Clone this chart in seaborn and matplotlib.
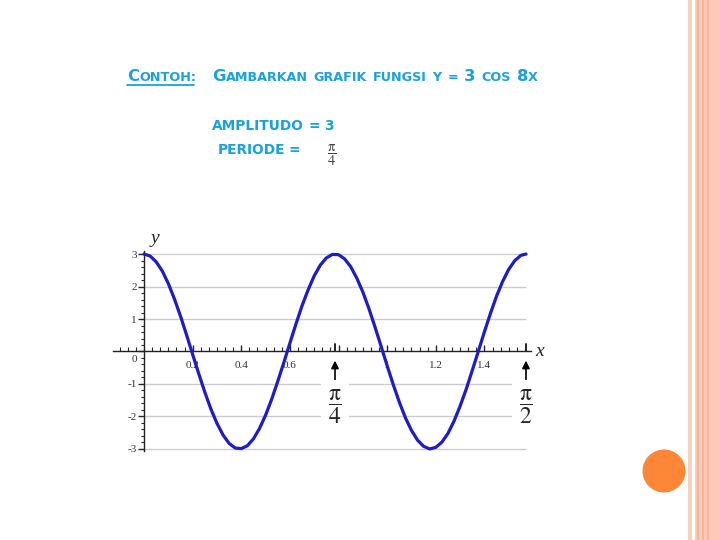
import numpy as np
import pandas as pd
import seaborn as sns
import matplotlib.pyplot as plt
from matplotlib.patches import Rectangle, Ellipse
from matplotlib.ticker import FixedLocator

# curve samples (y = 3 cos 8x)
x_vals = list(np.round(np.arange(0, 1.56, 0.025), 3)) + [1.571]
y_vals = [3.00, 2.94, 2.76, 2.48, 2.09, 1.62, 1.09, 0.51, -0.09, -0.68,
          -1.25, -1.77, -2.21, -2.57, -2.83, -2.97, -2.99, -2.90, -2.69, -2.37,
          -1.96, -1.47, -0.92, -0.34, 0.26, 0.85, 1.41, 1.90, 2.33, 2.66,
          2.88, 2.99, 2.98, 2.85, 2.61, 2.26, 1.83, 1.32, 0.75, 0.16,
          -0.44, -1.02, -1.56, -2.04, -2.43, -2.73, -2.92, -3.00, -2.95, -2.79,
          -2.52, -2.14, -1.68, -1.16, -0.58, 0.01, 0.61, 1.18, 1.71, 2.16,
          2.53, 2.80, 2.96, 3.00]

y_ticks = [-3, -2, -1, 0, 1, 2, 3]
y_ticklabels = ['-3', '-2', '-1', '', '1', '2', '3']
x_ticks = [0.2, 0.4, 0.6, 0.8, 1.0, 1.2, 1.4]
x_ticklabels = ['0.2', '0.4', '0.6', '', '1', '1.2', '1.4']
grid_levels = [-3, -2, -1, 1, 2, 3]
marks = [np.pi / 4, np.pi / 2]
mark_labels = [r'$\dfrac{\mathrm{\pi}}{4}$', r'$\dfrac{\mathrm{\pi}}{2}$']

TITLE_BLUE = '#19a2df'
W, H = 720, 540

sns.set_theme(style="white")
plt.rcParams['font.family'] = ['DejaVu Sans']
plt.rcParams['mathtext.fontset'] = 'stix'

fig = plt.figure(figsize=(7.2, 5.4), dpi=100)
fig.patch.set_facecolor('white')

# slide decoration on the right
fig.add_artist(Rectangle((688 / W, 0), 4 / W, 1, transform=fig.transFigure,
                         color='#f9cfbf', lw=0))
fig.add_artist(Rectangle((695 / W, 0), 25 / W, 1, transform=fig.transFigure,
                         color='#fccab6', lw=0))
for sx, sw in [(697, 1.5), (702, 1.5), (707, 2)]:
    fig.add_artist(Rectangle((sx / W, 0), sw / W, 1, transform=fig.transFigure,
                             color='#f5b89e', lw=0))
fig.add_artist(Ellipse((664 / W, 1 - 471 / H), 43 / W, 43 / H,
                       transform=fig.transFigure, color='#fd8637', lw=0))

# heading in small caps style, spread to the width seen on the slide
renderer = fig.canvas.get_renderer()


def draw_words(x_px, x_end, y_px, words, big, small):
    texts = []
    total = 0
    for word in words:
        row = []
        for txt, is_big in word:
            t = fig.text(0, 0, txt, fontsize=big if is_big else small,
                         color=TITLE_BLUE, fontweight='bold', va='baseline', ha='left')
            w = t.get_window_extent(renderer).width
            row.append((t, w))
            total += w
        texts.append(row)
    gap = max((x_end - x_px - total) / max(len(words) - 1, 1), 2)
    for row in texts:
        for t, w in row:
            t.set_position((x_px / W, 1 - y_px / H))
            x_px += w
        x_px += gap
    return x_px - gap


draw_words(127, 196, 81, [[('C', 1), ('ONTOH:', 0)]], 11.8, 9.2)
fig.add_artist(plt.Line2D([127 / W, 194 / W], [1 - 85 / H, 1 - 85 / H],
                          transform=fig.transFigure, color=TITLE_BLUE, lw=1.3))
draw_words(212, 538, 81, [[('G', 1), ('AMBARKAN', 0)], [('GRAFIK', 0)], [('FUNGSI', 0)],
                          [('Y', 0)], [('=', 0)], [('3', 1)], [('COS', 0)],
                          [('8', 1), ('X', 0)]], 11.8, 9.2)
draw_words(212, 334, 130, [[('AMPLITUDO', 0)], [('=', 0)], [('3', 0)]], 9.9, 9.9)
draw_words(218, 300, 154, [[('PERIODE', 0)], [('=', 0)]], 9.9, 9.9)
fig.text(332 / W, 1 - 155 / H, r'$\dfrac{\mathrm{\pi}}{4}$', fontsize=10.5, color='#444444',
         ha='center', va='center')

# graph
ax = fig.add_axes([113 / W, 1 - 460 / H, 432 / W, 230 / H])
ax.set_facecolor('none')
ax.set_xlim(-0.1275, 1.649)
ax.set_ylim(-3.34, 3.74)

ax.hlines(grid_levels, 0, np.pi / 2, color='#cccccc', lw=1, zorder=1)

data = pd.DataFrame({'x': x_vals, 'y': y_vals})
sns.lineplot(data=data, x='x', y='y', color='#1c1cc8', linewidth=2.3, ax=ax,
             sort=False, zorder=4)

for side in ['top', 'right']:
    ax.spines[side].set_visible(False)
ax.spines['left'].set_position(('data', 0))
ax.spines['bottom'].set_position(('data', 0))
ax.spines['left'].set_bounds(-3.05, 3.1)
ax.spines['bottom'].set_bounds(-0.1275, 1.59)
for side in ['left', 'bottom']:
    ax.spines[side].set_color('#222222')
    ax.spines[side].set_linewidth(1)
    ax.spines[side].set_zorder(3)

ax.yaxis.set_major_locator(FixedLocator(y_ticks))
ax.set_yticklabels(y_ticklabels)
ax.yaxis.set_minor_locator(FixedLocator(np.arange(-3, 3.01, 0.2)))
ax.xaxis.set_major_locator(FixedLocator(x_ticks))
ax.set_xticklabels(x_ticklabels)
ax.xaxis.set_minor_locator(FixedLocator(np.arange(-3, 48) / 30))
ax.tick_params(axis='y', which='major', direction='out', length=4, width=1,
               left=True, pad=1, labelsize=8, labelcolor='#333333')
ax.tick_params(axis='y', which='minor', direction='out', length=2, width=0.8, left=True)
ax.tick_params(axis='x', which='major', direction='in', length=4, width=1,
               bottom=True, pad=7, labelsize=8, labelcolor='#333333')
ax.tick_params(axis='x', which='minor', direction='in', length=3, width=0.8, bottom=True)
for lab in ax.get_xticklabels() + ax.get_yticklabels():
    lab.set_fontfamily(['Liberation Serif', 'DejaVu Serif'])
ax.set_xlabel('')
ax.set_ylabel('')

ax.text(-0.03, -0.1, '0', fontsize=8, color='#333333', ha='right', va='top',
        family=['Liberation Serif', 'DejaVu Serif'])
ax.text(1.628, 0, 'x', fontsize=14, style='italic', ha='center', va='center',
        family=['Liberation Serif', 'DejaVu Serif'])
ax.text(0.045, 3.49, 'y', fontsize=14, style='italic', ha='center', va='center',
        family=['Liberation Serif', 'DejaVu Serif'])

for xm, lab in zip(marks, mark_labels):
    ax.plot([xm, xm], [0, 0.22], color='#222222', lw=1.4, zorder=3)
    ax.annotate('', xy=(xm, -0.28), xytext=(xm, -1.02),
                arrowprops=dict(arrowstyle='-|>', color='black', lw=1.2,
                                mutation_scale=11, shrinkA=0, shrinkB=0), zorder=5)
    ax.text(xm, -1.7, lab, fontsize=17, ha='center', va='center', zorder=5,
            bbox=dict(boxstyle='square,pad=0.3', fc='white', ec='none'))

fig.savefig('out.png', dpi=100)
